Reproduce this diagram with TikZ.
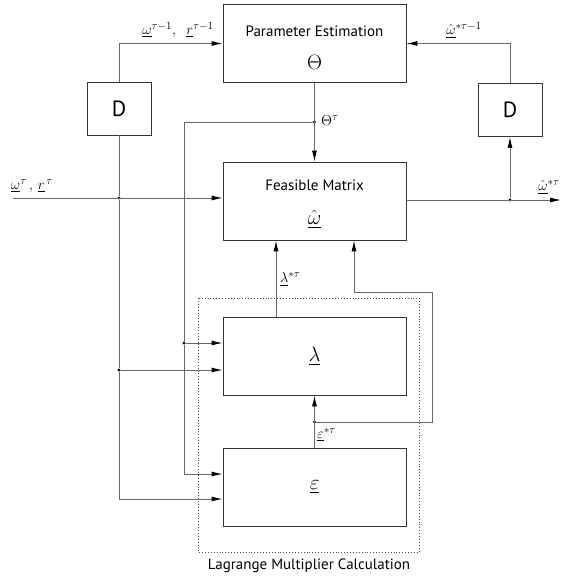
\documentclass[tikz,border=0pt]{standalone}
\usepackage{amsmath, amssymb}
\usepackage{fontspec}
\setsansfont{PT Sans}
\usetikzlibrary{arrows.meta}

\tikzset{
	block/.style={draw=black!80, line width=0.9pt, minimum width=183pt, minimum height=78pt, inner sep=0pt},
	dblock/.style={draw=black!80, line width=0.9pt, minimum width=64pt, minimum height=53pt, inner sep=0pt, font=\sffamily\fontsize{22}{24}\selectfont},
	wire/.style={draw=black!60, line width=0.9pt},
	sig/.style={wire, -{Latex[length=11pt,width=5pt,color=black]}},
	junc/.style={circle, fill=black, inner sep=0pt, minimum size=3.4pt},
	lbl/.style={font=\fontsize{15}{16}\selectfont, inner sep=1pt}
}

\begin{document}
\begin{tikzpicture}[x=1pt, y=-1pt]
	\useasboundingbox (0, 0) rectangle (562, 578);
	% Blocks:
	\node[block] (param) at (314.5, 43.5){};
	\node[font=\sffamily\fontsize{15}{17}\selectfont] (paramtxt) at (314.5, 31){Parameter Estimation};
	\node[font=\fontsize{20}{22}\selectfont] (paramsym) at (314.5, 62){$\Theta$};
	\node[block] (feas) at (314.5, 201){};
	\node[font=\sffamily\fontsize{15}{17}\selectfont, inner sep=0pt] (feastxt) at (314.5, 185){Feasible Matrix};
	\node[font=\fontsize{20}{22}\selectfont, inner sep=0pt] (feassym) at (314.5, 219){$\hat{\underline{\omega}}$};
	\node[block, font=\fontsize{22}{24}\selectfont] (lam) at (314.5, 356){$\underline{\lambda}$};
	\node[block, font=\fontsize{22}{24}\selectfont] (eps) at (314.5, 487){$\underline{\varepsilon}$};
	\node[dblock] (dl) at (119, 108.5){D};
	\node[dblock] (dr) at (510, 110){D};
	% Dotted frame:
	\draw[black!70, dotted, line width=0.9pt] (198, 298) rectangle (419, 552);
	\node[font=\sffamily\fontsize{15}{17}\selectfont] (lmc) at (309, 566){Lagrange Multiplier Calculation};
	% Junctions and corners:
	\coordinate (in) at (13, 198);
	\coordinate (out) at (561, 200);
	\node[junc] (jin) at (119, 198){};
	\node[junc] (jl) at (119, 370){};
	\coordinate (cl) at (119, 499);
	\node[junc] (jth) at (314.5, 122){};
	\coordinate (cth) at (184, 122);
	\node[junc] (jm) at (184, 343){};
	\coordinate (cm) at (184, 474);
	\node[junc] (jout) at (510, 200){};
	\node[junc] (jeps) at (314.5, 422){};
	\coordinate (e1) at (432, 422);
	\coordinate (e2) at (432, 292);
	\coordinate (e3) at (354, 292);
	\coordinate (lamtop) at (276, 317);
	% Wires:
	\draw[sig] (dl.north) |- (param.west);
	\draw[sig] (dr.north) |- (param.east);
	\draw[sig] (in) -- (in -| feas.west);
	\draw[wire] (dl.south) -- (jin) -- (jl) -- (cl);
	\draw[sig] (cl) -- (cl -| eps.west);
	\draw[sig] (jl) -- (jl -| lam.west);
	\draw[sig] (param.south) -- (feas.north);
	\draw[wire] (jth) -- (cth) -- (jm) -- (cm);
	\draw[sig] (jm) -- (jm -| lam.west);
	\draw[sig] (cm) -- (cm -| eps.west);
	\draw[sig] (feas.east |- out) -- (out);
	\draw[sig] (jout) -- (dr.south);
	\draw[sig] (lamtop) -- (lamtop |- feas.south);
	\draw[sig] (eps.north) -- (lam.south);
	\draw[sig] (jeps) -- (e1) -- (e2) -- (e3) -- (e3 |- feas.south);
	% Labels:
	\node[lbl] (l1) at (178, 30){$\underline{\omega}^{\tau-1},\;\;\underline{r}^{\tau-1}$};
	\node[lbl] (l2) at (32, 186){$\underline{\omega}^{\tau}\,,\,\underline{r}^{\,\tau}$};
	\node[lbl] (l3) at (464, 30){$\hat{\underline{\omega}}^{*\tau-1}$};
	\node[lbl] (l4) at (549, 187){$\hat{\underline{\omega}}^{*\tau}$};
	\node[lbl, anchor=west] (l5) at (320, 121){$\Theta^{\tau}$};
	\node[lbl, anchor=west] (l6) at (279, 279){$\underline{\lambda}^{*\tau}$};
	\node[lbl, anchor=west] (l7) at (316, 435){$\underline{\varepsilon}^{*\tau}$};
\end{tikzpicture}
\end{document}
